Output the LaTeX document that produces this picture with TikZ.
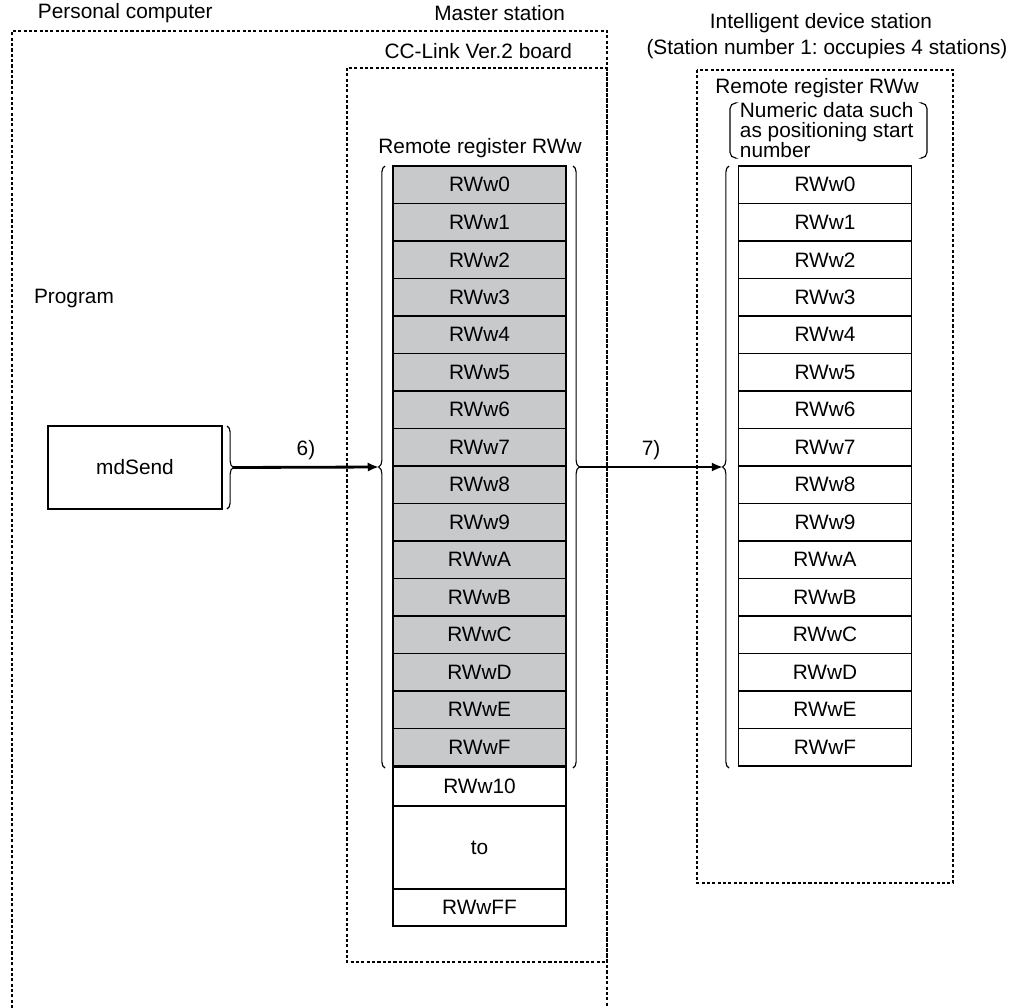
\documentclass[tikz,border=0pt]{standalone}
\usepackage{fontspec}
\setmainfont{Liberation Sans}
\frenchspacing
\usetikzlibrary{decorations.pathreplacing,arrows.meta}

\definecolor{regfill}{RGB}{200,201,203}

\tikzstyle{mreg} = [draw, line width=0.9pt, fill=regfill, minimum width=4.325cm, minimum height=0.9375cm, inner sep=0pt]
\tikzstyle{ireg} = [mreg, fill=white]
\tikzstyle{frame} = [line width=1.1pt, dash pattern=on 2.2pt off 1.6pt]
\tikzstyle{regbrace} = [decorate, decoration={brace, amplitude=4.5pt}, line width=0.8pt]
\tikzstyle{paren} = [line width=0.8pt, rounded corners=4pt]
\tikzstyle{flow} = [-{Latex[length=8pt,width=6.5pt]}, line width=2pt]

\begin{document}
\begin{tikzpicture}[x=0.025cm, y=-0.025cm, font=\fontsize{14.8}{17}\selectfont]
\useasboundingbox (0,0) rectangle (1022,1008);

% station frames
\draw[frame] (12,1008) -- (12,31) -- (607,31) -- (607,1008);
\draw[frame] (347,68) rectangle (607,962);
\draw[frame] (697,70) rectangle (953,883);

\node[anchor=west] (pc) at (33,13) {Personal computer};
\node[anchor=east] (master) at (570,13) {Master station};
\node[anchor=east] (board) at (577,51) {CC-Link Ver.2 board};
\node (ids) at (821,23) {Intelligent device station};
\node (idsno) at (827,49) {(Station number 1: occupies 4 stations)};
\node (prog) at (74,298) {Program};

% program side
\node[draw, line width=0.8pt, minimum width=4.35cm, minimum height=2.075cm] (send) at (135,467.5) {mdSend};

% remote registers
\node (mtitle) at (480,148) {Remote register RWw};
\node (ititle) at (817,88) {Remote register RWw};
\node[anchor=west, align=left, font=\fontsize{14.8}{14.2}\selectfont] (inote) at (735,130) {Numeric data such\\as positioning start\\number};
\draw[paren] (735,103) -- (730,103) -- (730,158) -- (735,158);
\draw[paren] (922,103) -- (927,103) -- (927,158) -- (922,158);

\foreach \r [count=\k from 0] in {0,1,2,3,4,5,6,7,8,9,A,B,C,D,E,F} {
  \node[mreg] (mw\k) at (479.5,184.75+37.5*\k) {RWw\r};
  \node[ireg] (iw\k) at (825,184.75+37.5*\k) {RWw\r};
}
\node[ireg, minimum height=0.975cm] (mw16) at (479.5,786.5) {RWw10};
\node[ireg, minimum height=2.075cm] (mwto) at (479.5,847.5) {to};
\node[ireg, minimum height=0.925cm] (mwff) at (479.5,907.5) {RWwFF};

% braces
\draw[regbrace] (227,426) -- (227,509);
\draw[regbrace] (385,768) -- (385,166);
\draw[regbrace] (573,166) -- (573,768);
\draw[regbrace] (729,768) -- (729,166);
\coordinate (sendtip) at (233,467.5);
\coordinate (mltip) at (379,467);
\coordinate (mrtip) at (579,467);
\coordinate (iltip) at (723,467);

% transfers
\draw[flow] (sendtip) -- (mltip) node[midway, above=1pt] {6)};
\draw[flow] (mrtip) -- (iltip) node[midway, above=1pt] {7)};
\end{tikzpicture}
\end{document}
